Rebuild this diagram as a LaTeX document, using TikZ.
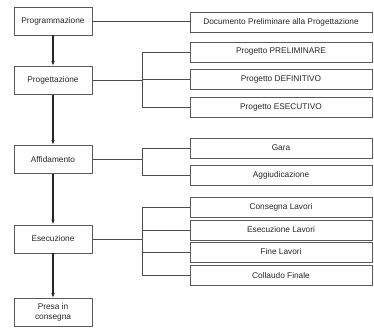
\documentclass[tikz,border=0pt]{standalone}
\usepackage{fontspec}
\setmainfont{Liberation Sans}
\usetikzlibrary{arrows.meta}
\begin{document}
\begin{tikzpicture}[
        x=1pt, y=-1pt,
        every node/.style={font=\fontsize{8.3}{9.5}\selectfont, text=black!85},
        fase/.style={draw=black!65, line width=0.8pt, minimum width=78pt, minimum height=28pt, align=center, inner sep=1pt},
        attivita/.style={draw=black!65, line width=0.8pt, minimum width=182pt, minimum height=20pt, inner sep=1pt},
        freccia/.style={draw=black!85, line width=1.3pt, -{Latex[length=5pt,width=3.5pt]}},
        ramo/.style={draw=black!70, line width=0.7pt}
    ]
        \useasboundingbox (0,0) rectangle (374,329);

        % Fasi
        \node [fase] (prog) at (53,21) {Programmazione};
        \node [fase] (prgt) at (53,80.5) {Progettazione};
        \node [fase] (aff) at (53,159.5) {Affidamento};
        \node [fase] (esec) at (53,239) {Esecuzione};
        \node [fase] (presa) at (53,312.5) {Presa in\\consegna};

        % Attivita
        \node [attivita] (doc) at (281,22.5) {Documento Preliminare alla Progettazione};
        \node [attivita] (prel) at (281,52) {Progetto PRELIMINARE};
        \node [attivita] (def) at (281,79.5) {Progetto DEFINITIVO};
        \node [attivita] (ese) at (281,107) {Progetto ESECUTIVO};
        \node [attivita] (gara) at (281,148) {Gara};
        \node [attivita] (agg) at (281,175.5) {Aggiudicazione};
        \node [attivita] (cons) at (281,207) {Consegna Lavori};
        \node [attivita] (esl) at (281,230) {Esecuzione Lavori};
        \node [attivita] (fine) at (281,252) {Fine Lavori};
        \node [attivita] (coll) at (281,275.5) {Collaudo Finale};

        % Frecce tra le fasi
        \draw [freccia] (prog) -- (prgt);
        \draw [freccia] (prgt) -- (aff);
        \draw [freccia] (aff) -- (esec);
        \draw [freccia] (esec) -- (presa);

        % Punti di diramazione
        \coordinate (b2) at (142,80.5);
        \coordinate (b3) at (142,159.5);
        \coordinate (b4) at (142,239);

        % Rami
        \draw [ramo] (prog.east) -- (prog.east -| doc.west);
        \draw [ramo] (prgt.east) -- (b2);
        \draw [ramo] (b2 |- prel.west) -- (b2 |- ese.west);
        \foreach \n in {prel, def, ese}
            \draw [ramo] (b2 |- \n.west) -- (\n.west);
        \draw [ramo] (aff.east) -- (b3);
        \draw [ramo] (b3 |- gara.west) -- (b3 |- agg.west);
        \foreach \n in {gara, agg}
            \draw [ramo] (b3 |- \n.west) -- (\n.west);
        \draw [ramo] (esec.east) -- (b4);
        \draw [ramo] (b4 |- cons.west) -- (b4 |- coll.west);
        \foreach \n in {cons, esl, fine, coll}
            \draw [ramo] (b4 |- \n.west) -- (\n.west);
    \end{tikzpicture}
\end{document}
